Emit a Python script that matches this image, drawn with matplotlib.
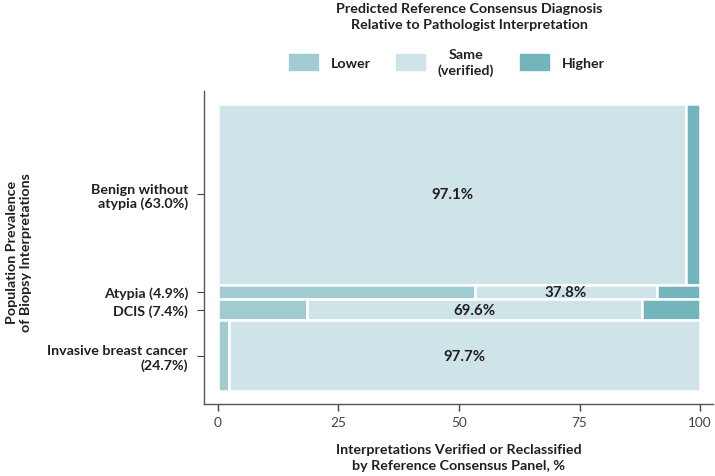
import matplotlib
matplotlib.use("Agg")
import matplotlib.pyplot as plt
import matplotlib.patches as mpatches
import numpy as np

plt.rcParams["font.family"] = ["Lato", "DejaVu Sans"]

# data
categories = ["Benign without\natypia (63.0%)", "Atypia (4.9%)", "DCIS (7.4%)",
              "Invasive breast cancer\n(24.7%)"]
prevalence = [63.0, 4.9, 7.4, 24.7]
lower  = [0.0, 53.3, 18.4, 2.3]
same   = [97.1, 37.8, 69.6, 97.7]
higher = [2.9, 8.9, 12.0, 0.0]
same_labels = ["97.1%", "37.8%", "69.6%", "97.7%"]

C_LOWER  = "#a0cbd1"
C_SAME   = "#cee4e8"
C_HIGHER = "#74b4bc"
C_TEXT   = "#231f20"
FS = 10.3
FW = "bold"

fig = plt.figure(figsize=(7.15, 4.77), dpi=100)
ax = fig.add_axes([0.2853, 0.151, 0.712, 0.656])

# rows stacked from the top
tops = 100 - np.concatenate([[0], np.cumsum(prevalence)[:-1]])
centers = tops - np.array(prevalence) / 2

for i in range(len(categories)):
    h = prevalence[i]
    b = tops[i] - h
    left = 0
    for w, c in [(lower[i], C_LOWER), (same[i], C_SAME), (higher[i], C_HIGHER)]:
        if w > 0:
            ax.bar(left, h, width=w, bottom=b, align="edge", color=c,
                   edgecolor="white", linewidth=1.8, zorder=3)
        left += w
    ax.text(lower[i] + same[i] / 2, centers[i], same_labels[i], ha="center",
            va="center", fontsize=10.8, fontweight=FW, color=C_TEXT, zorder=4)

ax.set_xlim(-2.9, 102.7)
ax.set_ylim(-4.5, 104.5)
ax.set_xticks([0, 25, 50, 75, 100])
ax.set_yticks(centers)
ax.set_yticklabels(categories, fontsize=FS, fontweight=FW, color=C_TEXT,
                   ha="right", multialignment="right", linespacing=1.15)
ax.tick_params(axis="x", labelsize=9.8, colors="#444444", length=5, width=1)
ax.tick_params(axis="y", length=5, width=0.8, color="#444444", pad=6.5)
ax.spines["top"].set_visible(False)
ax.spines["right"].set_visible(False)
for s in ["left", "bottom"]:
    ax.spines[s].set_color("#555555")
    ax.spines[s].set_linewidth(1)

ax.set_xlabel("Interpretations Verified or Reclassified\nby Reference Consensus Panel, %",
              fontsize=FS, fontweight=FW, color=C_TEXT, labelpad=11, linespacing=1.4)
fig.text(0.026, 0.47, "Population Prevalence\nof Biopsy Interpretations", rotation=90,
         ha="center", va="center", fontsize=FS, fontweight=FW, color=C_TEXT,
         linespacing=1.2)

fig.text(0.656, 0.965, "Predicted Reference Consensus Diagnosis\nRelative to Pathologist Interpretation",
         ha="center", va="center", fontsize=FS, fontweight=FW, color=C_TEXT,
         linespacing=1.4)

handles = [mpatches.Patch(color=C_LOWER, label="Lower"),
           mpatches.Patch(color=C_SAME, label="Same\n(verified)"),
           mpatches.Patch(color=C_HIGHER, label="Higher")]
leg = fig.legend(handles=handles, loc="center", bbox_to_anchor=(0.625, 0.868), ncol=3,
                 frameon=False, handlelength=2.0, handleheight=1.4, columnspacing=1.8,
                 handletextpad=0.9, prop={"size": FS, "weight": FW})
for t in leg.get_texts():
    t.set_color(C_TEXT)
    t.set_multialignment("center")
    t.set_linespacing(1.25)

fig.savefig("out.png", dpi=100)
